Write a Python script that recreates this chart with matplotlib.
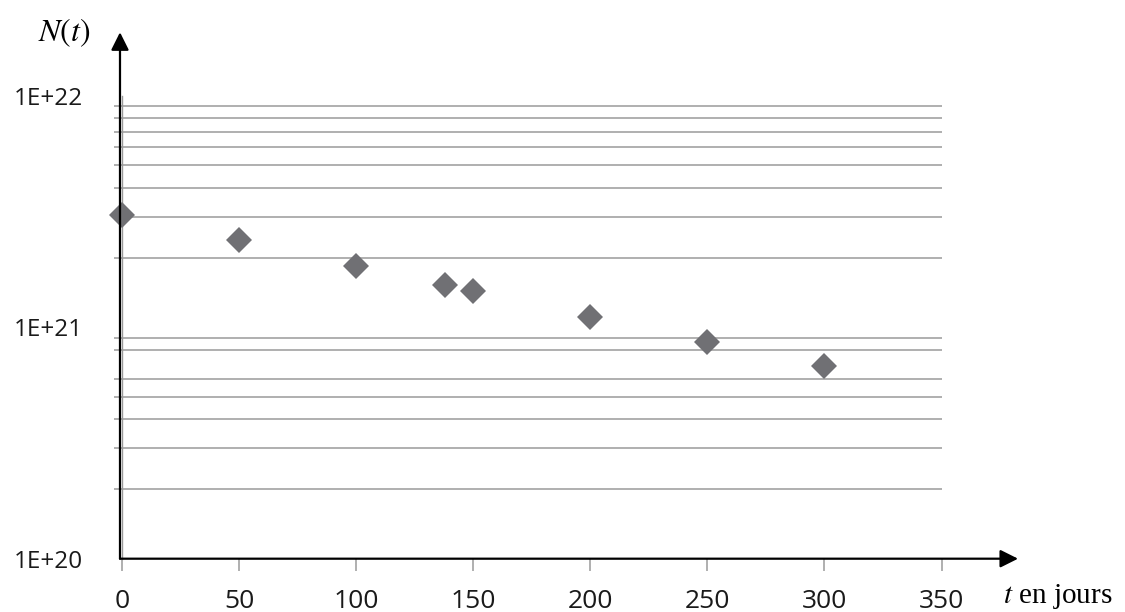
import matplotlib
matplotlib.use("Agg")
import matplotlib.pyplot as plt
from matplotlib.ticker import FixedLocator, NullFormatter

# data (t in days, N(t) number of nuclei)
t_days = [0, 50, 100, 138, 150, 200, 250, 300]
N_vals = [3.05e21, 2.38e21, 1.84e21, 1.52e21, 1.43e21, 1.11e21, 8.6e20, 6.8e20]

x_ticks = [0, 50, 100, 150, 200, 250, 300, 350]
y_major = [1e20, 1e21, 1e22]
y_major_labels = ["1E+20", "1E+21", "1E+22"]
# horizontal lines that show up in the picture (7E+20 and 1E+22 are missing)
y_grid = [2e20, 3e20, 4e20, 5e20, 6e20, 8e20, 9e20,
          1e21, 2e21, 3e21, 4e21, 5e21, 6e21, 7e21, 8e21, 9e21]

GRID = "#9a9a9a"
MARK = "#707074"

plt.rcParams["mathtext.fontset"] = "stix"

fig = plt.figure(figsize=(11.25, 6.12), dpi=100)
ax = fig.add_axes([0.1087, 0.0871, 0.7282, 0.7565])

ax.plot(t_days, N_vals, linestyle="none", marker="D", markersize=13,
        color=MARK, markeredgewidth=0, clip_on=False, zorder=5)

ax.set_yscale("log")
ax.set_xlim(0, 350)
ax.set_ylim(1e20, 1e22)

# y axis: labels on decades, grid + small stubs on the other lines
ax.yaxis.set_major_locator(FixedLocator(y_major))
ax.set_yticklabels(y_major_labels)
ax.yaxis.set_minor_locator(FixedLocator(y_grid))
ax.yaxis.set_minor_formatter(NullFormatter())
ax.tick_params(axis="y", which="major", length=0, pad=28, labelsize=17.5)
ax.tick_params(axis="y", which="minor", length=6, width=1.1, color=GRID,
               direction="out")
ax.grid(True, axis="y", which="minor", color=GRID, linewidth=1.1)

ax.set_xticks(x_ticks)
ax.tick_params(axis="x", length=8.6, width=1.1, color=GRID, pad=13,
               labelsize=19)

for lab in ax.get_xticklabels() + ax.get_yticklabels():
    lab.set_fontfamily("Open Sans")
    lab.set_color("#1a1a1a")

for s in ["top", "right", "bottom"]:
    ax.spines[s].set_visible(False)
ax.spines["left"].set_color(GRID)
ax.spines["left"].set_linewidth(1.0)

# black arrow axes
arrow = dict(arrowstyle="-|>,head_length=0.6,head_width=0.3",
             mutation_scale=18, lw=1.6, color="black",
             shrinkA=0, shrinkB=0)
ax.annotate("", xy=(1.0934, 0), xytext=(-0.0028, 0),
            xycoords="axes fraction", textcoords="axes fraction",
            arrowprops=arrow, annotation_clip=False, zorder=6)
ax.annotate("", xy=(-0.0028, 1.137), xytext=(-0.0028, 0),
            xycoords="axes fraction", textcoords="axes fraction",
            arrowprops=arrow, annotation_clip=False, zorder=6)

fig.text(64 / 1125, 1 - 33 / 612, r"$N(t)$", fontsize=23,
         ha="center", va="center")
fig.text(1003 / 1125, 1 - 603 / 612, r"$t$ en jours", fontsize=21,
         family="Liberation Serif", ha="left", va="baseline")

fig.savefig("out.png", dpi=100)
